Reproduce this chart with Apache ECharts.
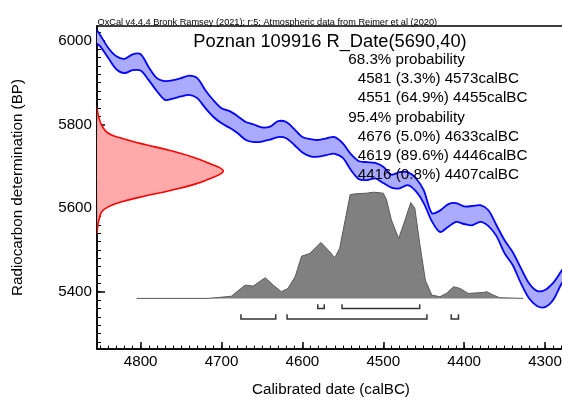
<!DOCTYPE html>
<html>
<head>
<meta charset="utf-8">
<script src="https://cdn.jsdelivr.net/npm/echarts@6/dist/echarts.min.js"></script>
<style>
html, body { margin: 0; padding: 0; background: #fff; }
#chart { width: 562px; height: 398px; }
</style>
</head>
<body>
<div id="chart"></div>
<script>
// calibration curve (IntCal20), band = mean +/- 1 sigma
const calYears = [4855, 4850, 4840, 4830, 4820, 4810, 4800, 4790, 4780, 4770, 4760, 4750, 4740, 4730, 4720, 4710, 4700, 4690, 4680, 4670, 4660, 4650, 4640, 4630, 4620, 4610, 4600, 4590, 4580, 4570, 4560, 4550, 4540, 4530, 4520, 4510, 4500, 4490, 4480, 4470, 4460, 4450, 4440, 4430, 4420, 4410, 4400, 4390, 4380, 4370, 4360, 4350, 4340, 4330, 4320, 4310, 4300, 4290, 4280, 4275];
const calUpper = [6028, 6014, 5983, 5963, 5957, 5968, 5968, 5937, 5911, 5904, 5906, 5911, 5917, 5911, 5882, 5858, 5839, 5832, 5820, 5806, 5800, 5793, 5795, 5808, 5806, 5789, 5770, 5765, 5763, 5767, 5770, 5755, 5729, 5712, 5710, 5708, 5699, 5680, 5686, 5686, 5672, 5643, 5588, 5594, 5609, 5612, 5604, 5605, 5607, 5595, 5559, 5523, 5495, 5457, 5421, 5402, 5404, 5421, 5449, 5464];
const calLower = [5994, 5987, 5959, 5932, 5923, 5930, 5929, 5906, 5880, 5859, 5862, 5867, 5871, 5863, 5839, 5818, 5803, 5792, 5779, 5763, 5758, 5759, 5764, 5770, 5767, 5751, 5733, 5724, 5723, 5727, 5730, 5720, 5691, 5669, 5667, 5671, 5660, 5649, 5647, 5655, 5641, 5612, 5569, 5543, 5555, 5567, 5562, 5559, 5567, 5557, 5533, 5492, 5464, 5421, 5385, 5366, 5363, 5380, 5418, 5433];

// radiocarbon measurement R_Date(5690,40), drawn against the y axis
const rdYears = [4853.7, 4852.4, 4848.2, 4840.1, 4823.5, 4794.7, 4765.9, 4736.9, 4716.4, 4697.8, 4716.4, 4736.9, 4765.9, 4794.7, 4823.5, 4840.1, 4848.2, 4851.6, 4853.2, 4853.7];
const rdBP = [5839, 5822, 5798, 5779, 5767, 5752, 5739, 5723, 5708, 5689, 5669, 5655, 5641, 5629, 5615, 5603, 5591, 5572, 5555, 5540];

// calibrated probability (relative)
const distYears = [4805, 4718, 4702, 4688, 4671, 4661, 4646, 4636, 4626, 4618, 4609, 4601, 4591, 4577, 4568, 4560, 4554, 4541, 4535, 4521, 4512, 4500, 4496, 4490, 4481, 4473, 4466, 4461, 4455, 4448, 4440, 4430, 4422, 4413, 4405, 4395, 4376, 4372, 4364, 4356, 4327];
const distProb = [0, 0, 0.01, 0.02, 0.125, 0.116, 0.195, 0.125, 0.063, 0.094, 0.204, 0.398, 0.423, 0.527, 0.454, 0.383, 0.47, 0.976, 0.985, 0.991, 1.0, 0.991, 0.929, 0.74, 0.564, 0.74, 0.903, 0.85, 0.52, 0.172, 0.031, 0.016, 0.047, 0.11, 0.094, 0.047, 0.056, 0.063, 0.031, 0.007, 0];

// highest posterior density ranges: [from, to, percent]
const ranges68 = [[4581, 4573, '3.3'], [4551, 4455, '64.9']];
const ranges95 = [[4676, 4633, '5.0'], [4619, 4446, '89.6'], [4416, 4407, '0.8']];

const xMajor = [4800, 4700, 4600, 4500, 4400, 4300];
const yMajor = [5400, 5600, 5800, 6000];
const xMinor = [];
for (let v = 4280; v <= 4850; v += 10) xMinor.push(v);
const yMinor = [];
for (let v = 5280; v <= 6020; v += 20) yMinor.push(v);

const FONT = '"Liberation Sans", Arial, sans-serif';
const X_MIN = 4275.3, X_MAX = 4854;
const Y_MIN = 5263, Y_MAX = 6035.6;
const DIST_BASE = 5384, DIST_HEIGHT = 254;

const chart = echarts.init(document.getElementById('chart'));

const bandUpper = calYears.map((y, i) => [y, calUpper[i]]);
const bandLower = calYears.map((y, i) => [y, calLower[i]]);
const rdPoints = rdYears.map((y, i) => [y, rdBP[i]]);

// filled shape + outline(s), smoothed the same way
function shapeItem(fillPts, lines, fill, stroke, width, smooth) {
    return function (params, api) {
        const c = p => api.coord(p);
        const children = [{
            type: 'polygon',
            shape: { points: fillPts.map(c), smooth: smooth },
            style: { fill: fill, stroke: null }
        }];
        lines.forEach(function (pts) {
            children.push({
                type: 'polyline',
                shape: { points: pts.map(c), smooth: smooth },
                style: { stroke: stroke, lineWidth: width, fill: null }
            });
        });
        return { type: 'group', children: children };
    };
}

const bracketData = ranges68.map(r => [r[0], r[1], 0]).concat(ranges95.map(r => [r[0], r[1], 1]));

const textLines = ['68.3% probability']
    .concat(ranges68.map(r => r[0] + ' (' + r[2] + '%) ' + r[1] + 'calBC'))
    .concat(['95.4% probability'])
    .concat(ranges95.map(r => r[0] + ' (' + r[2] + '%) ' + r[1] + 'calBC'));

const graphics = [
    {
        type: 'text', left: 97.5, top: 17.5, z: 100,
        style: { text: 'OxCal v4.4.4 Bronk Ramsey (2021); r:5; Atmospheric data from Reimer et al (2020)', font: '9.2px ' + FONT, fill: '#000' }
    },
    {
        type: 'text', x: 330, y: 42, z: 100,
        style: { text: 'Poznan 109916 R_Date(5690,40)', font: '18.3px ' + FONT, fill: '#000', align: 'center', verticalAlign: 'middle' }
    }
];
textLines.forEach(function (t, i) {
    const header = t.indexOf('probability') >= 0;
    graphics.push({
        type: 'text', x: header ? 348.3 : 357.7, y: 59.5 + i * 19.3, z: 100,
        style: { text: t, font: '15.2px ' + FONT, fill: '#000', verticalAlign: 'middle' }
    });
});

const plain = function (v) { return String(v); };
const hidden = 'rgba(0,0,0,0)';

const option = {
    animation: false,
    backgroundColor: '#fff',
    grid: {
        left: 97, right: -3, top: 26, bottom: 49,
        outerBoundsMode: 'none', containLabel: false,
        show: true, borderColor: '#000', borderWidth: 1.5
    },
    xAxis: [
        {
            type: 'value', inverse: true, min: X_MIN, max: X_MAX,
            name: 'Calibrated date (calBC)', nameLocation: 'middle', nameGap: 33,
            nameTextStyle: { fontSize: 15.2, color: '#000', fontFamily: FONT },
            axisLine: { show: true, lineStyle: { color: '#000', width: 1.5 } },
            axisTick: { show: true, inside: true, length: 7, customValues: xMajor, lineStyle: { color: '#000', width: 1.5 } },
            axisLabel: { customValues: xMajor, formatter: plain, fontSize: 15.2, color: '#000', fontFamily: FONT, margin: 5 },
            splitLine: { show: false }
        },
        {
            type: 'value', inverse: true, min: X_MIN, max: X_MAX, position: 'bottom', offset: 0,
            axisLine: { show: true, lineStyle: { color: hidden, width: 0 } },
            axisTick: { show: true, inside: true, length: 3.5, customValues: xMinor, lineStyle: { color: '#000', width: 1 } },
            axisLabel: { show: true, customValues: xMinor, color: hidden, formatter: function () { return ''; } },
            splitLine: { show: false }
        }
    ],
    yAxis: [
        {
            type: 'value', min: Y_MIN, max: Y_MAX,
            name: 'Radiocarbon determination (BP)', nameLocation: 'middle', nameGap: 72,
            nameTextStyle: { fontSize: 15.2, color: '#000', fontFamily: FONT },
            axisLine: { show: true, lineStyle: { color: '#000', width: 1.5 } },
            axisTick: { show: true, inside: true, length: 8, customValues: yMajor, lineStyle: { color: '#000', width: 1.5 } },
            axisLabel: { customValues: yMajor, formatter: plain, fontSize: 15.2, color: '#000', fontFamily: FONT, margin: 5 },
            splitLine: { show: false }
        },
        {
            type: 'value', min: Y_MIN, max: Y_MAX, position: 'left', offset: 0,
            axisLine: { show: true, lineStyle: { color: hidden, width: 0 } },
            axisTick: { show: true, inside: true, length: 4, customValues: yMinor, lineStyle: { color: '#000', width: 1 } },
            axisLabel: { show: true, customValues: yMinor, color: hidden, formatter: function () { return ''; } },
            splitLine: { show: false }
        }
    ],
    graphic: graphics,
    series: [
        // calibration curve band
        {
            type: 'custom', clip: true, data: [0], z: 3,
            renderItem: shapeItem(bandUpper.concat(bandLower.slice().reverse()), [bandUpper, bandLower], '#aaaaff', '#0000ff', 1.8, 0.3)
        },
        // red measurement
        {
            type: 'custom', clip: true, data: [0], z: 3,
            renderItem: shapeItem(rdPoints, [rdPoints], '#ffaaaa', '#ff0000', 1.6, 0.4)
        },
        // calibrated distribution
        {
            type: 'line', symbol: 'none', z: 2,
            lineStyle: { color: '#5a5a5a', width: 1 },
            areaStyle: { color: '#808080', opacity: 1, origin: DIST_BASE },
            data: distYears.map((y, i) => [y, DIST_BASE + distProb[i] * DIST_HEIGHT])
        },
        // range brackets
        {
            type: 'custom', clip: true, z: 4,
            data: bracketData,
            renderItem: function (params, api) {
                const lvl = api.value(2);
                const barY = lvl === 0 ? 5360 : 5335;
                const tipY = lvl === 0 ? 5370 : 5346;
                const a = api.coord([api.value(0), tipY]);
                const b = api.coord([api.value(0), barY]);
                const c = api.coord([api.value(1), barY]);
                const d = api.coord([api.value(1), tipY]);
                return {
                    type: 'polyline',
                    shape: { points: [a, b, c, d] },
                    style: { stroke: '#333', lineWidth: 1.5, fill: null }
                };
            }
        }
    ]
};
chart.setOption(option);
window.addEventListener('resize', function () { chart.resize(); });
</script>
</body>
</html>
